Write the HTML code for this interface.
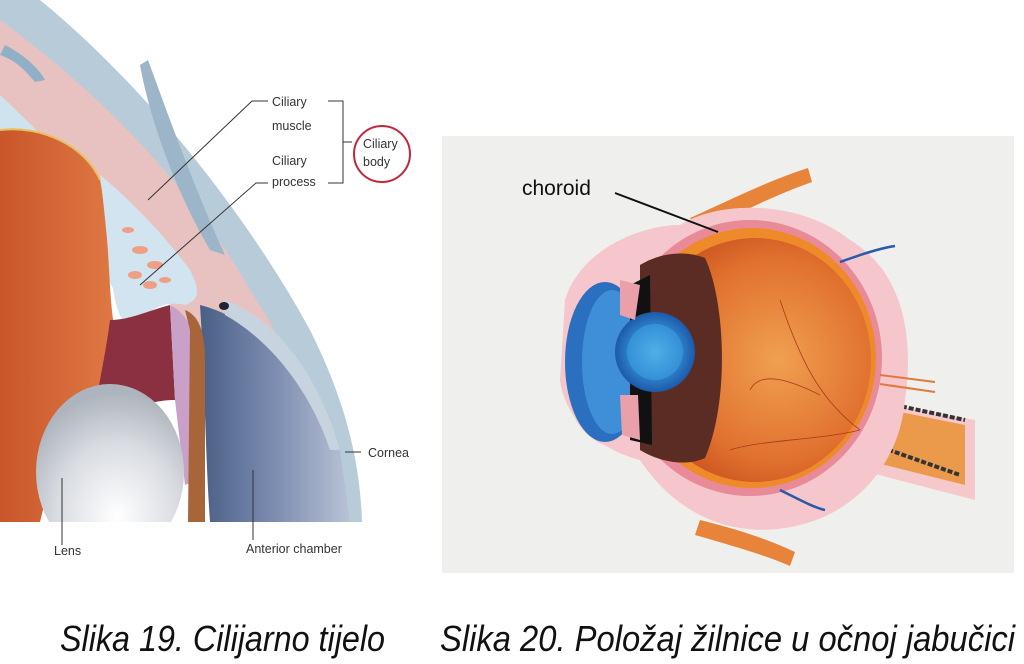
<!DOCTYPE html>
<html><head><meta charset="utf-8"><style>
html,body{margin:0;padding:0;background:#fff;}
svg{display:block;}
</style></head><body>
<svg width="1024" height="664" viewBox="0 0 1024 664" xmlns="http://www.w3.org/2000/svg" font-family="Liberation Sans, Arial, sans-serif">
<defs>
<linearGradient id="orL" x1="0" x2="1"><stop offset="0" stop-color="#c9562a"/><stop offset="1" stop-color="#e07a45"/></linearGradient>
<radialGradient id="lensG" cx="0.55" cy="0.75" r="0.7"><stop offset="0" stop-color="#ffffff"/><stop offset="0.6" stop-color="#d8dbe0"/><stop offset="1" stop-color="#aeb4bd"/></radialGradient>
<linearGradient id="corG" x1="0" x2="1"><stop offset="0" stop-color="#4a5f86"/><stop offset="0.5" stop-color="#7d8db0"/><stop offset="1" stop-color="#b9c2d6"/></linearGradient>
<radialGradient id="globe" cx="0.6" cy="0.5" r="0.6"><stop offset="0" stop-color="#f0a050"/><stop offset="0.7" stop-color="#e0702e"/><stop offset="1" stop-color="#c8501e"/></radialGradient>
<radialGradient id="blueL" cx="0.5" cy="0.5" r="0.5"><stop offset="0" stop-color="#6ec6f0"/><stop offset="0.6" stop-color="#2f86d0"/><stop offset="1" stop-color="#1d5aa8"/></radialGradient>
</defs>

<!-- LEFT ILLUSTRATION -->
<rect x="0" y="0" width="420" height="580" fill="#fff"/>
<path d="M0,0 L40,0 C150,90 250,220 310,330 C345,400 360,460 362,522 L330,522 C325,450 300,380 260,320 C200,230 110,120 0,40 Z" fill="#b7ccd8"/>
<path d="M0,20 C110,100 200,200 250,290 C290,350 320,420 330,522 L240,522 C230,430 210,370 180,320 C130,240 70,170 0,110 Z" fill="#e8c2c0"/>
<path d="M0,95 C70,160 130,230 170,300 L130,320 C100,260 60,200 0,150 Z" fill="#cfe3ee"/>
<path d="M200,305 C260,320 310,380 340,450 L350,522 L210,522 C205,450 205,380 200,305 Z" fill="url(#corG)"/>
<path d="M225,300 C280,320 320,380 340,450 L330,450 C310,390 270,340 225,315 Z" fill="#c8d3e0"/>
<path d="M140,65 C150,120 175,190 210,250 L225,255 C195,190 170,120 148,60 Z" fill="#9db5c8"/>
<path d="M5,45 C25,55 40,70 45,80 L35,82 C25,70 15,60 0,55 Z" fill="#8fb0c6"/>
<path d="M0,130 C40,125 85,145 100,180 C110,230 108,300 115,330 L120,360 C100,390 80,420 60,440 L40,522 L0,522 Z" fill="url(#orL)"/>
<path d="M0,130 C40,125 85,145 100,180" fill="none" stroke="#e8c060" stroke-width="2"/>
<path d="M100,175 C130,200 160,230 190,270 C200,290 200,300 185,305 C165,300 150,310 140,320 C125,330 120,320 115,300 C108,260 105,210 100,175 Z" fill="#d2e4ef"/>
<g fill="#ee9f86">
<ellipse cx="140" cy="250" rx="8" ry="4"/><ellipse cx="155" cy="265" rx="8" ry="4"/><ellipse cx="135" cy="275" rx="7" ry="4"/>
<ellipse cx="150" cy="285" rx="7" ry="4"/><ellipse cx="165" cy="280" rx="6" ry="3"/><ellipse cx="128" cy="230" rx="6" ry="3"/>
</g>
<path d="M110,320 C130,320 150,310 170,305 L175,400 C150,400 120,410 90,440 C95,400 105,360 110,320 Z" fill="#8a3040"/>
<path d="M170,305 C180,310 190,320 195,340 L198,480 L185,485 L175,400 Z" fill="#c9a0c8"/>
<path d="M185,310 C198,315 205,330 205,360 L205,522 L188,522 L190,330 Z" fill="#a8653a"/>
<ellipse cx="110" cy="472" rx="74" ry="88" fill="url(#lensG)"/>
<rect x="0" y="522" width="420" height="60" fill="#fff"/>
<ellipse cx="224" cy="306" rx="5" ry="4" fill="#223"/>
<g stroke="#333" stroke-width="1" fill="none">
<path d="M268,101 L252,101 L148,200"/>
<path d="M268,183 L256,183 L140,285"/>
<path d="M328,101 L343,101 L343,183 L328,183"/>
<path d="M343,142 L352,142"/>
<path d="M361,452 L345,452"/>
<path d="M62,478 L62,545"/>
<path d="M253,470 L253,540"/>
</g>
<circle cx="382" cy="154" r="28" fill="#fff" stroke="#c0283a" stroke-width="2"/>
<g font-size="12.5" fill="#333">
<text x="272" y="106">Ciliary</text>
<text x="272" y="130">muscle</text>
<text x="272" y="165">Ciliary</text>
<text x="272" y="186">process</text>
<text x="363" y="148">Ciliary</text>
<text x="363" y="166">body</text>
<text x="368" y="457">Cornea</text>
<text x="54" y="555">Lens</text>
<text x="246" y="553">Anterior chamber</text>
</g>

<!-- RIGHT ILLUSTRATION -->
<rect x="442" y="136" width="572" height="437" fill="#efefed"/>
<path d="M690,218 C730,200 770,180 808,168 L812,182 C775,195 735,215 700,232 Z" fill="#e8843a"/>
<path d="M700,520 C740,530 770,540 795,552 L790,566 C765,555 730,545 695,535 Z" fill="#e8843a"/>
<path d="M860,400 L975,420 L975,500 L860,470 Z" fill="#f5c8cc"/>
<path d="M865,405 L965,425 L965,485 L865,460 Z" fill="#eb9a4c"/>
<path d="M895,405 L965,420" stroke="#333" stroke-width="4" stroke-dasharray="5 2"/>
<path d="M875,445 L960,475" stroke="#333" stroke-width="4" stroke-dasharray="5 2"/>
<path d="M565,300 C580,250 640,225 680,225 C720,200 800,200 850,240 C900,270 915,330 905,400 C900,460 860,510 800,525 C740,540 680,520 640,460 C600,450 565,420 560,380 Z" fill="#f5c6cc"/>
<ellipse cx="750" cy="358" rx="132" ry="138" fill="#e98a98"/>
<ellipse cx="752" cy="358" rx="124" ry="130" fill="#ee8a2a"/>
<ellipse cx="755" cy="360" rx="116" ry="122" fill="url(#globe)"/>
<g stroke="#a83a1a" stroke-width="0.8" fill="none">
<path d="M860,430 C820,400 800,360 780,300"/>
<path d="M860,430 C820,440 760,440 730,450"/>
<path d="M820,395 C790,380 760,370 750,390"/>
</g>
<path d="M598,290 C570,310 562,360 568,400 C575,430 595,445 620,450 L630,290 Z" fill="#f5c6cc"/>
<ellipse cx="605" cy="362" rx="40" ry="80" fill="#2a6fc0"/>
<ellipse cx="612" cy="362" rx="30" ry="72" fill="#3f8fd8"/>
<path d="M640,265 C665,250 690,252 705,258 C725,300 730,400 705,458 C690,465 665,465 640,450 Z" fill="#5a2c24"/>
<path d="M630,285 L650,275 L652,445 L630,440 Z" fill="#111"/>
<circle cx="655" cy="352" r="40" fill="url(#blueL)"/>
<circle cx="655" cy="352" r="28" fill="#3e9ee0" opacity="0.6"/>
<path d="M620,280 L640,285 L635,320 L620,315 Z" fill="#eaa0a8"/>
<path d="M620,395 L638,395 L640,440 L622,435 Z" fill="#eaa0a8"/>
<line x1="615" y1="193" x2="718" y2="232" stroke="#111" stroke-width="2"/>
<text x="522" y="195" font-size="21" fill="#111">choroid</text>
<path d="M840,262 C860,255 880,248 895,246" stroke="#2a5aa8" stroke-width="2.5" fill="none"/>
<path d="M780,490 C800,500 815,508 825,510" stroke="#2a5aa8" stroke-width="2.5" fill="none"/>
<path d="M880,375 L935,382 M880,384 L935,392" stroke="#e07a3a" stroke-width="2"/>

<g font-size="36" font-style="italic" fill="#111">
<text x="60" y="651" textLength="325" lengthAdjust="spacingAndGlyphs">Slika 19. Cilijarno tijelo</text>
<text x="440" y="651" textLength="575" lengthAdjust="spacingAndGlyphs">Slika 20. Položaj žilnice u očnoj jabučici</text>
</g>
</svg>
</body></html>
